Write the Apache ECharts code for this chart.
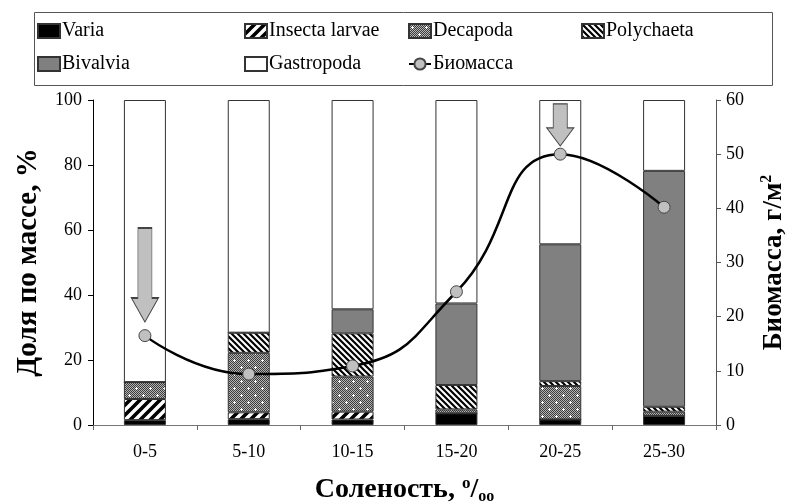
<!DOCTYPE html>
<html>
<head>
<meta charset="utf-8">
<script src="https://cdn.jsdelivr.net/npm/echarts@6/dist/echarts.min.js"></script>
<style>html,body{margin:0;padding:0;background:#fff;}#c{width:803px;height:504px;}</style>
</head>
<body>
<div id="c"></div>
<script>
// ---- data ----
const categories = ['0-5', '5-10', '10-15', '15-20', '20-25', '25-30'];
const varia      = [1.5, 1.8, 1.7, 3.6, 1.7, 2.8];
const insecta    = [6.5, 2.1, 2.4, 0, 0, 0];
const decapoda   = [5.2, 18.3, 10.8, 1.2, 10.3, 1.3];
const polychaeta = [0, 6.2, 13.3, 7.5, 1.5, 1.5];
const bivalvia   = [0, 0, 7.4, 25.1, 42.1, 72.6];
const gastropoda = [86.8, 71.6, 64.4, 62.6, 44.4, 21.8];
const biomass    = [16.5, 9.4, 10.9, 24.6, 50.0, 40.2];
const leftTicks  = {min: 0, max: 100, interval: 20};
const rightTicks = {min: 0, max: 60, interval: 10};
// annotation arrows (category, centre value on biomass axis)
const arrowCats   = ['0-5', '20-25'];
const arrowValues = [27.7, 55.4];

const FONT = 'Liberation Serif';

function makeTile(size, draw) {
  const c = document.createElement('canvas');
  c.width = size; c.height = size;
  const g = c.getContext('2d');
  draw(g, size);
  return c;
}
const insectaPat = makeTile(10, (g, s) => {
  g.fillStyle = '#fff'; g.fillRect(0, 0, s, s);
  g.strokeStyle = '#000'; g.lineWidth = 3.6;
  g.beginPath();
  g.moveTo(0, s); g.lineTo(s, 0);
  g.moveTo(-2, 2); g.lineTo(2, -2);
  g.moveTo(s - 2, s + 2); g.lineTo(s + 2, s - 2);
  g.stroke();
});
const polyPat = makeTile(6, (g, s) => {
  g.fillStyle = '#fff'; g.fillRect(0, 0, s, s);
  g.strokeStyle = '#000'; g.lineWidth = 2.2;
  g.beginPath();
  g.moveTo(0, 0); g.lineTo(s, s);
  g.moveTo(-2, s - 2); g.lineTo(2, s + 2);
  g.moveTo(s - 2, -2); g.lineTo(s + 2, 2);
  g.stroke();
});
const decaPat = makeTile(14, (g, s) => {
  for (let y = 0; y < s; y++) for (let x = 0; x < s; x++) {
    g.fillStyle = ((x + y) % 2 === 0) ? '#3c3c3c' : '#b4b4b4';
    g.fillRect(x, y, 1, 1);
  }
  g.fillStyle = '#fff';
  [[3, 3], [10, 10]].forEach(([cx, cy]) => {
    g.fillRect(cx - 1, cy, 3, 1);
    g.fillRect(cx, cy - 1, 1, 3);
  });
});

function barSeries(name, data, color) {
  return {
    type: 'bar', stack: 'total', barWidth: 42,
    name: name, data: data,
    itemStyle: {color: color, borderColor: '#333', borderWidth: 1}
  };
}

const legendNames = ['Varia', 'Insecta larvae', 'Decapoda', 'Polychaeta', 'Bivalvia', 'Gastropoda', 'Биомасса'];
const legendLeft = [37, 244, 408, 581, 37, 244, 408];
const legendTop  = [21, 21, 21, 21, 54, 54, 54];
const legends = legendNames.map((n, i) => ({
  data: [n === 'Биомасса' ? n : {name: n, icon: 'rect'}],
  left: legendLeft[i], top: legendTop[i],
  itemWidth: 22, itemHeight: 14, itemGap: 0,
  padding: 0,
  textStyle: {fontFamily: FONT, fontSize: 20, color: '#000', padding: [0, 0, 0, -3]}
}));

const chart = echarts.init(document.getElementById('c'), null, {renderer: 'canvas'});
chart.setOption({
  animation: false,
  backgroundColor: '#fff',
  graphic: [{
    type: 'rect', left: 32, top: 10,
    shape: {width: 738, height: 73},
    style: {fill: 'none', stroke: '#555', lineWidth: 1}
  }],
  legend: legends,
  grid: {left: 93, right: 87, top: 100, bottom: 79, containLabel: false, outerBoundsMode: 'none'},
  xAxis: {
    type: 'category', data: categories, boundaryGap: true,
    axisLine: {lineStyle: {color: '#777', width: 1}},
    axisTick: {show: true, length: 5, lineStyle: {color: '#666'}},
    axisLabel: {fontFamily: FONT, fontSize: 18, color: '#000', margin: 18},
    name: '{m|Соленость, }{sup|o}{m|/}{sub|oo}',
    nameLocation: 'middle', nameGap: 50,
    nameTextStyle: {
      rich: {
        m: {fontFamily: FONT, fontSize: 28, fontWeight: 'bold', color: '#000', lineHeight: 30},
        sup: {fontFamily: FONT, fontSize: 17, fontWeight: 'bold', color: '#000', verticalAlign: 'top', lineHeight: 30},
        sub: {fontFamily: FONT, fontSize: 16, fontWeight: 'bold', color: '#000', verticalAlign: 'bottom', lineHeight: 30}
      }
    }
  },
  yAxis: [{
    type: 'value', min: leftTicks.min, max: leftTicks.max, interval: leftTicks.interval,
    position: 'left',
    axisLine: {show: true, lineStyle: {color: '#000', width: 1}},
    axisTick: {show: true, length: 5, lineStyle: {color: '#000'}},
    splitLine: {show: false},
    axisLabel: {fontFamily: FONT, fontSize: 18, color: '#000', margin: 11},
    name: 'Доля по массе, %', nameLocation: 'middle', nameGap: 50,
    nameTextStyle: {fontFamily: FONT, fontSize: 29, fontWeight: 'bold', color: '#000'}
  }, {
    type: 'value', min: rightTicks.min, max: rightTicks.max, interval: rightTicks.interval,
    position: 'right',
    axisLine: {show: true, lineStyle: {color: '#555', width: 1}},
    axisTick: {show: true, length: 5, lineStyle: {color: '#555'}},
    splitLine: {show: false},
    axisLabel: {fontFamily: FONT, fontSize: 18, color: '#000', margin: 10},
    name: '{m|Биомасса, г/м}{s|2}', nameLocation: 'middle', nameGap: 43,
    nameTextStyle: {
      rich: {
        m: {fontFamily: FONT, fontSize: 27, fontWeight: 'bold', color: '#000', lineHeight: 30},
        s: {fontFamily: FONT, fontSize: 16, fontWeight: 'bold', color: '#000', verticalAlign: 'top', lineHeight: 30}
      }
    }
  }],
  series: [
    barSeries('Varia', varia, '#000'),
    barSeries('Insecta larvae', insecta, {image: insectaPat, repeat: 'repeat'}),
    barSeries('Decapoda', decapoda, {image: decaPat, repeat: 'repeat'}),
    barSeries('Polychaeta', polychaeta, {image: polyPat, repeat: 'repeat'}),
    barSeries('Bivalvia', bivalvia, '#808080'),
    barSeries('Gastropoda', gastropoda, '#fff'),
    {
      name: 'Биомасса', type: 'line', yAxisIndex: 1, data: biomass,
      smooth: 0.5, z: 5,
      symbol: 'circle', symbolSize: 12,
      lineStyle: {color: '#000', width: 2.5},
      itemStyle: {color: '#c0c0c0', borderColor: '#444', borderWidth: 1},
      markPoint: {
        silent: true,
        label: {show: false},
        itemStyle: {color: '#c0c0c0', borderColor: '#444', borderWidth: 1},
        data: [
          {coord: [arrowCats[0], arrowValues[0]], symbol: 'path://M6.5,0 L20.5,0 L20.5,70 L27,70 L13.5,94 L0,70 L6.5,70 Z', symbolSize: [27, 94]},
          {coord: [arrowCats[1], arrowValues[1]], symbol: 'path://M6.5,0 L20.5,0 L20.5,24 L27,24 L13.5,42 L0,24 L6.5,24 Z', symbolSize: [27, 42]}
        ]
      }
    }
  ]
});
</script>
</body>
</html>
